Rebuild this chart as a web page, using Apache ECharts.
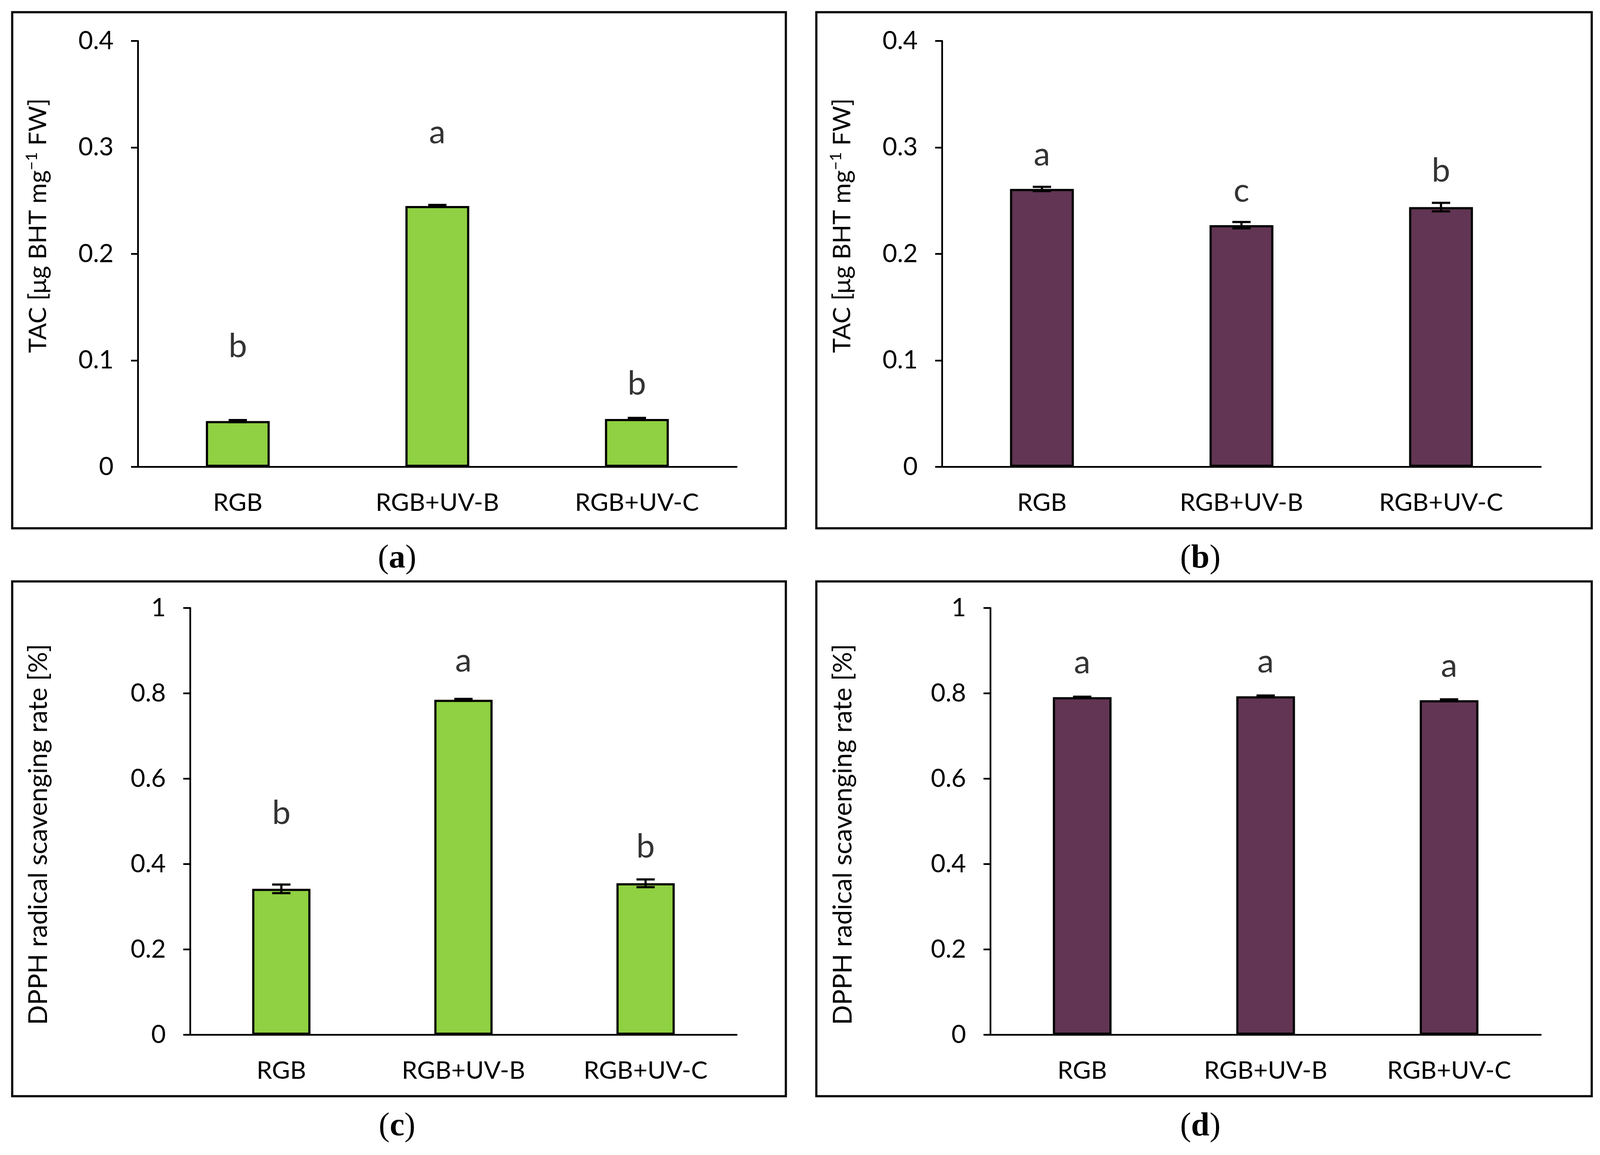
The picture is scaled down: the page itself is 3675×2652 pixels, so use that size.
<!DOCTYPE html>
<html>
<head>
<meta charset="utf-8">
<script src="https://cdn.jsdelivr.net/npm/echarts@6/dist/echarts.min.js"></script>
<style>
html,body{margin:0;padding:0;background:#fff;}
#chart{width:3675px;height:2652px;}
</style>
</head>
<body>
<div id="chart"></div>
<script>
// ---- data ----
const categories = ['RGB', 'RGB+UV-B', 'RGB+UV-C'];

const tacA = [0.043, 0.245, 0.045];
const tacAErr = [0.001, 0.001, 0.001];
const tacALetters = ['b', 'a', 'b'];
const tacALetterY = [0.113, 0.314, 0.078];

const tacB = [0.261, 0.227, 0.244];
const tacBErr = [0.002, 0.003, 0.004];
const tacBLetters = ['a', 'c', 'b'];
const tacBLetterY = [0.293, 0.259, 0.278];

const dpphC = [0.342, 0.785, 0.355];
const dpphCErr = [0.010, 0.002, 0.009];
const dpphCLetters = ['b', 'a', 'b'];
const dpphCLetterY = [0.519, 0.876, 0.440];

const dpphD = [0.791, 0.793, 0.784];
const dpphDErr = [0.001, 0.002, 0.002];
const dpphDLetters = ['a', 'a', 'a'];
const dpphDLetterY = [0.872, 0.874, 0.864];

const tacTicks = {min: 0, max: 0.4, interval: 0.1};
const dpphTicks = {min: 0, max: 1, interval: 0.2};

const green = '#8fd142';
const purple = '#613553';
const sans = 'Lato, "Open Sans", sans-serif';
const serif = '"Liberation Serif", "DejaVu Serif", serif';

const panels = [
  {vals: tacA, errs: tacAErr, letters: tacALetters, ly: tacALetterY, color: green, ticks: tacTicks, tac: true,
   grid: {left: 317, top: 94, width: 1375, height: 978}, nameGap: 196, namePad: [0,0,0,130],
   box: [28, 28, 1777, 1185], tag: 'a', tagPos: [912, 1283]},
  {vals: tacB, errs: tacBErr, letters: tacBLetters, ly: tacBLetterY, color: purple, ticks: tacTicks, tac: true,
   grid: {left: 2164, top: 94, width: 1375, height: 978}, nameGap: 196, namePad: [0,0,0,130],
   box: [1875, 28, 1781, 1185], tag: 'b', tagPos: [2757, 1283]},
  {vals: dpphC, errs: dpphCErr, letters: dpphCLetters, ly: dpphCLetterY, color: green, ticks: dpphTicks, tac: false,
   grid: {left: 437, top: 1396, width: 1255, height: 980}, nameGap: 318, namePad: [0,60,0,0],
   box: [28, 1335, 1777, 1182], tag: 'c', tagPos: [912, 2587]},
  {vals: dpphD, errs: dpphDErr, letters: dpphDLetters, ly: dpphDLetterY, color: purple, ticks: dpphTicks, tac: false,
   grid: {left: 2275, top: 1396, width: 1264, height: 980}, nameGap: 308, namePad: [0,60,0,0],
   box: [1875, 1335, 1781, 1182], tag: 'd', tagPos: [2757, 2587]}
];

const grids = [], xAxes = [], yAxes = [], series = [], graphics = [];

panels.forEach((p, i) => {
  grids.push(Object.assign({containLabel: false}, p.grid));
  xAxes.push({
    type: 'category', gridIndex: i, data: categories,
    axisLine: {lineStyle: {color: '#000', width: 4}},
    axisTick: {show: false},
    axisLabel: {color: '#000', fontFamily: sans, fontSize: 57, margin: 54}
  });
  yAxes.push({
    type: 'value', gridIndex: i,
    min: p.ticks.min, max: p.ticks.max, interval: p.ticks.interval,
    axisLine: {show: true, lineStyle: {color: '#000', width: 4}},
    axisTick: {show: true, length: 16, lineStyle: {color: '#000', width: 4}},
    splitLine: {show: false},
    axisLabel: {color: '#000', fontFamily: sans, fontSize: 58, margin: 56},
    name: p.tac ? '{n|TAC [μg BHT mg}{s|−1}{n| FW]}' : 'DPPH radical scavenging rate [%]',
    nameLocation: 'middle', nameGap: p.nameGap, nameRotate: 90,
    nameTextStyle: {
      color: '#000', fontFamily: sans, fontSize: p.tac ? 57 : 60, padding: p.namePad,
      rich: {
        n: {fontFamily: sans, fontSize: 57, color: '#000', lineHeight: 66},
        s: {fontFamily: sans, fontSize: 36, color: '#000', verticalAlign: 'top', lineHeight: 66, padding: [0, 0, 26, 0]}
      }
    }
  });
  series.push({
    type: 'bar', xAxisIndex: i, yAxisIndex: i, data: p.vals, barWidth: '32%',
    itemStyle: {color: p.color, borderColor: '#000', borderWidth: 5},
    silent: true, animation: false
  });
  series.push({
    type: 'custom', xAxisIndex: i, yAxisIndex: i, z: 5, animation: false,
    data: p.vals.map((v, k) => [k, v - p.errs[k], v + p.errs[k]]),
    renderItem: function (params, api) {
      const lo = api.coord([api.value(0), api.value(1)]);
      const hi = api.coord([api.value(0), api.value(2)]);
      const hw = 21;
      const st = {stroke: '#000', lineWidth: 5};
      return {type: 'group', children: [
        {type: 'line', shape: {x1: hi[0], y1: hi[1], x2: lo[0], y2: lo[1]}, style: st},
        {type: 'line', shape: {x1: hi[0] - hw, y1: hi[1], x2: hi[0] + hw, y2: hi[1]}, style: st},
        {type: 'line', shape: {x1: lo[0] - hw, y1: lo[1], x2: lo[0] + hw, y2: lo[1]}, style: st}
      ]};
    }
  });
  series.push({
    type: 'scatter', xAxisIndex: i, yAxisIndex: i, symbolSize: 0, animation: false,
    data: p.ly.map((y, k) => [k, y]),
    label: {show: true, position: 'inside', color: '#000', fontFamily: sans, fontSize: 76,
      formatter: (prm) => p.letters[prm.dataIndex]}
  });
  graphics.push({
    type: 'rect', shape: {x: p.box[0], y: p.box[1], width: p.box[2], height: p.box[3]},
    style: {fill: 'none', stroke: '#000', lineWidth: 5}, z: -1
  });
  graphics.push({
    type: 'text', x: p.tagPos[0], y: p.tagPos[1],
    style: {
      text: '{r|(}{b|' + p.tag + '}{r|)}', align: 'center', verticalAlign: 'middle',
      rich: {
        r: {fontFamily: serif, fontSize: 76, fill: '#000'},
        b: {fontFamily: serif, fontSize: 76, fontWeight: 'bold', fill: '#000'}
      }
    }
  });
});

const chart = echarts.init(document.getElementById('chart'), null, {renderer: 'canvas'});
chart.setOption({
  backgroundColor: '#fff',
  animation: false,
  grid: grids, xAxis: xAxes, yAxis: yAxes, series: series, graphic: graphics
});
</script>
</body>
</html>
